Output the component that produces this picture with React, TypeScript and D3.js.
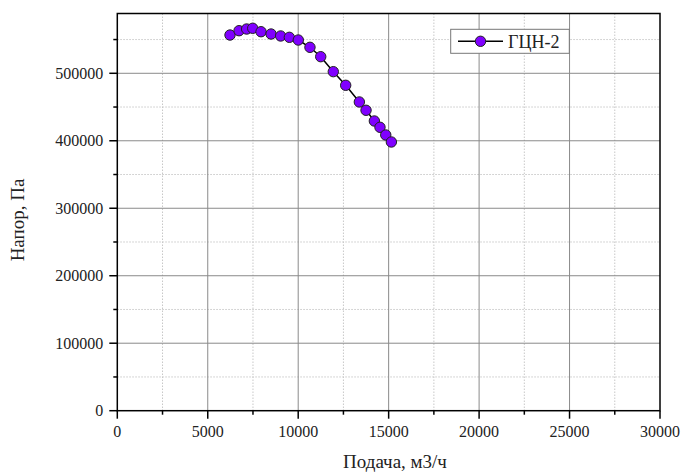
import React from "react";
import * as d3 from "d3";

const flowValues = [6230, 6730, 7150, 7485, 7945, 8500, 9030, 9510, 10005, 10650, 11245, 11940, 12625, 13380, 13750, 14210, 14520, 14840, 15150];
const headValues = [556700, 563100, 565600, 566700, 561600, 558200, 555300, 553300, 549300, 538500, 524600, 502400, 482200, 457500, 445200, 429300, 420000, 408600, 398200];
const xTicks = [0, 5000, 10000, 15000, 20000, 25000, 30000];
const xMinor = [2500, 7500, 12500, 17500, 22500, 27500];
const yTicks = [0, 100000, 200000, 300000, 400000, 500000];
const yMinor = [50000, 150000, 250000, 350000, 450000, 550000];
const seriesName = "ГЦН-2";
const xTitle = "Подача, м3/ч";
const yTitle = "Напор, Па";

export default function App() {
  const W = 681, H = 472;
  const L = 117.3, R = 660, T = 13.5, B = 410.7;
  const x = d3.scaleLinear().domain([0, 30000]).range([L, R]);
  const y = d3.scaleLinear().domain([0, 588600]).range([B, T]);
  const pts = flowValues.map((f, i) => [x(f), y(headValues[i])] as [number, number]);
  const line = d3.line()(pts) || "";
  const font = "'Liberation Serif', 'Times New Roman', serif";
  const purple = "#8000ff";
  return (
    <svg width={W} height={H} style={{ position: "absolute", left: 0, top: 0, background: "#fff" }} fontFamily={font}>
      <rect x={0} y={0} width={W} height={H} fill="#fff" />
      {xMinor.map((v) => (
        <line key={"xm" + v} x1={x(v)} x2={x(v)} y1={T} y2={B} stroke="#c8c8c8" strokeWidth={1} strokeDasharray="1.5,1.5" />
      ))}
      {yMinor.map((v) => (
        <line key={"ym" + v} x1={L} x2={R} y1={y(v)} y2={y(v)} stroke="#c8c8c8" strokeWidth={1} strokeDasharray="1.5,1.5" />
      ))}
      {xTicks.slice(1, -1).map((v) => (
        <line key={"xg" + v} x1={x(v)} x2={x(v)} y1={T} y2={B} stroke="#8a8a8a" strokeWidth={1} />
      ))}
      {yTicks.slice(1).map((v) => (
        <line key={"yg" + v} x1={L} x2={R} y1={y(v)} y2={y(v)} stroke="#8a8a8a" strokeWidth={1} />
      ))}
      <rect x={L} y={T} width={R - L} height={B - T} fill="none" stroke="#000" strokeWidth={1.5} />
      {xTicks.map((v) => (
        <g key={"xt" + v}>
          <line x1={x(v)} x2={x(v)} y1={B} y2={B + 8} stroke="#000" strokeWidth={1.5} />
          <text x={x(v)} y={B + 26.5} textAnchor="middle" fontSize={16} fill="#222">{v}</text>
        </g>
      ))}
      {xMinor.map((v) => (
        <line key={"xmt" + v} x1={x(v)} x2={x(v)} y1={B} y2={B + 4} stroke="#000" strokeWidth={1.5} />
      ))}
      {yTicks.map((v) => (
        <g key={"yt" + v}>
          <line x1={L - 8} x2={L} y1={y(v)} y2={y(v)} stroke="#000" strokeWidth={1.5} />
          <text x={L - 14} y={y(v) + 5.3} textAnchor="end" fontSize={16} fill="#222">{v}</text>
        </g>
      ))}
      {yMinor.map((v) => (
        <line key={"ymt" + v} x1={L - 4} x2={L} y1={y(v)} y2={y(v)} stroke="#000" strokeWidth={1.5} />
      ))}
      <path d={line} fill="none" stroke="#000" strokeWidth={1.5} />
      {pts.map((p, i) => (
        <circle key={"p" + i} cx={p[0]} cy={p[1]} r={5.2} fill={purple} stroke="#222" strokeWidth={1} />
      ))}
      <g>
        <rect x={450.7} y={29.3} width={118.6} height={24} fill="#fff" stroke="#777" strokeWidth={1} />
        <line x1={458} x2={503} y1={41.3} y2={41.3} stroke="#000" strokeWidth={1.5} />
        <circle cx={480.5} cy={41.3} r={5.2} fill={purple} stroke="#222" strokeWidth={1} />
        <text x={508} y={48} fontSize={18} fill="#222">{seriesName}</text>
      </g>
      <text x={395} y={468} textAnchor="middle" fontSize={19} fill="#222">{xTitle}</text>
      <text transform={`translate(24,220) rotate(-90)`} textAnchor="middle" fontSize={19} fill="#222">{yTitle}</text>
    </svg>
  );
}
